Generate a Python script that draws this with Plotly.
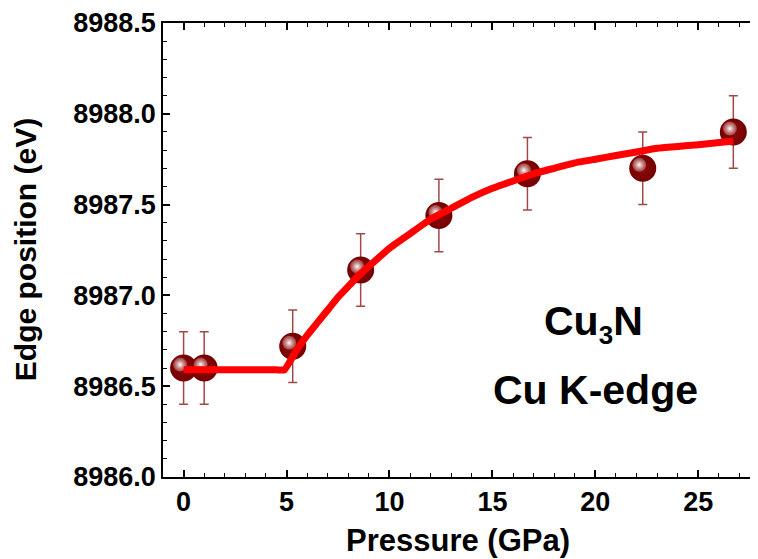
import numpy as np
import plotly.graph_objects as go

# Data
pressure = [0.0, 1.0, 5.3, 8.6, 12.4, 16.7, 22.3, 26.7]
edge = [8986.60, 8986.60, 8986.72, 8987.14, 8987.44, 8987.67, 8987.70, 8987.90]
edge_err = [0.2, 0.2, 0.2, 0.2, 0.2, 0.2, 0.2, 0.2]

fit_p = [0.0, 2.5, 4.5, 4.9, 5.5, 6.0, 6.5, 7.0, 7.5, 8.0, 8.6, 9.2, 10.0, 11.0, 12.0, 13.0,
         14.0, 15.0, 16.0, 17.0, 18.0, 19.0, 20.0, 21.0, 22.0, 23.0, 24.0, 25.0, 26.7]
fit_e = [8986.59, 8986.59, 8986.59, 8986.59, 8986.70, 8986.78, 8986.85, 8986.92, 8986.99,
         8987.05, 8987.12, 8987.18, 8987.26, 8987.34, 8987.42, 8987.48, 8987.54, 8987.59,
         8987.63, 8987.67, 8987.70, 8987.73, 8987.75, 8987.77, 8987.79, 8987.81, 8987.82,
         8987.83, 8987.85]

FONT = "Liberation Sans, Arial, sans-serif"

fig = go.Figure()

# spheres with error bars
fig.add_trace(go.Scatter(
    x=pressure, y=edge, mode="markers",
    marker=dict(size=27, color="#740000", line=dict(width=0),
                gradient=dict(type="radial", color="#8c0c0c")),
    error_y=dict(type="data", array=edge_err, visible=True, color="#a24848",
                 thickness=1.5, width=4.5),
    showlegend=False, hoverinfo="skip"))

# highlight (small, offset toward upper-left)
px = np.array(pressure) - 0.17
py = np.array(edge) + 0.019
fig.add_trace(go.Scatter(
    x=px, y=py, mode="markers",
    marker=dict(size=14, color="rgba(215,150,150,0.4)", line=dict(width=0),
                gradient=dict(type="radial", color="#ffffff")),
    showlegend=False, hoverinfo="skip"))

# fit line
fig.add_trace(go.Scatter(
    x=fit_p, y=fit_e, mode="lines",
    line=dict(color="#ff0000", width=7, shape="spline", smoothing=0.3),
    showlegend=False, hoverinfo="skip"))

axis_common = dict(
    showgrid=False, zeroline=False, showline=True, linecolor="black", linewidth=1.5,
    mirror="ticks", ticks="inside", ticklen=7, tickwidth=1.5, tickcolor="black",
    automargin=False,
    tickfont=dict(family=FONT, size=27, color="black", weight="bold"),
)

fig.update_xaxes(range=[-1, 27.85], tickvals=[0, 5, 10, 15, 20, 25],
                 minor=dict(ticks="inside", ticklen=4, dtick=1, tickcolor="black", tickwidth=1.2),
                 **axis_common)
fig.update_yaxes(range=[8986.0, 8988.5], tickvals=[8986.0, 8986.5, 8987.0, 8987.5, 8988.0, 8988.5],
                 ticktext=["8986.0", "8986.5", "8987.0", "8987.5", "8988.0", "8988.5"],
                 minor=dict(ticks="inside", ticklen=4, dtick=0.1, tickcolor="black", tickwidth=1.2),
                 **axis_common)

fig.add_annotation(text="<b>Pressure (GPa)</b>", xref="paper", yref="paper",
                   x=0.497, y=-0.139, xanchor="center", yanchor="middle", showarrow=False,
                   font=dict(family=FONT, size=31, color="black"))
fig.add_annotation(text="<b>Edge position (eV)</b>", xref="paper", yref="paper",
                   x=-0.232, y=0.5, xanchor="center", yanchor="middle", textangle=-90,
                   showarrow=False, font=dict(family=FONT, size=30, color="black"))
fig.add_annotation(text="<b>Cu<sub><span style='font-size:26px'>3</span></sub>N</b>", xref="x", yref="y",
                   x=19.9, y=8986.84, xanchor="center", yanchor="middle", showarrow=False,
                   font=dict(family=FONT, size=41, color="black"))
fig.add_annotation(text="<b>Cu K-edge</b>", xref="x", yref="y",
                   x=20.0, y=8986.48, xanchor="center", yanchor="middle", showarrow=False,
                   font=dict(family=FONT, size=41, color="black"))

# page body has an 8px margin, so the figure is laid out 8px smaller
fig.update_layout(
    width=750, height=551,
    margin=dict(l=155, r=1, t=15, b=82),
    paper_bgcolor="white", plot_bgcolor="white",
)

fig.write_html("out.html")
